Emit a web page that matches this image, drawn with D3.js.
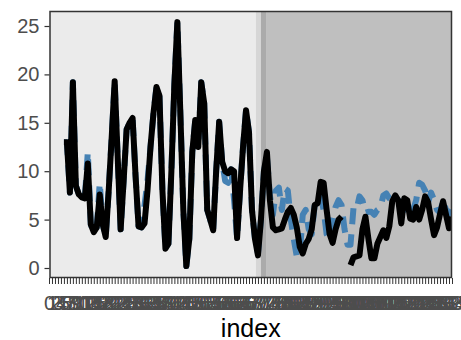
<!DOCTYPE html>
<html><head><meta charset="utf-8">
<script src="https://cdn.jsdelivr.net/npm/d3@7"></script>
<style>body{margin:0;background:#fff}svg{display:block}</style>
</head><body>
<svg id="c" width="461" height="340"></svg>
<script>
// ---- data ----
const indexValues = d3.range(0, 136);
const tickLabels = indexValues.map(String);
const actual = [null,null,null,null,null,
13.0,13.0,7.8,19.2,8.5,7.6,7.3,7.2,10.8,4.5,3.7,4.2,7.6,4.5,3.2,
8.0,13.5,19.3,11.5,4.0,9.0,14.3,15.0,15.5,9.5,4.3,4.2,4.6,8.0,12.5,
16.0,18.7,17.8,8.0,2.0,2.5,10.0,19.0,25.4,16.0,6.0,0.2,3.0,12.0,15.3,
12.5,19.2,17.0,6.0,5.0,3.9,10.0,15.1,11.0,10.0,9.8,10.2,10.0,3.1,8.0,
12.5,16.3,14.0,6.0,3.0,1.3,5.0,10.0,12.0,7.0,4.2,3.9,4.0,4.1,5.0,
5.8,6.2,5.5,4.2,2.2,1.5,2.5,3.0,4.0,6.5,6.7,8.9,8.8,6.0,3.5,
2.6,4.0,5.0,5.3,null,null,0.3,1.1,1.2,1.3,4.0,5.3,3.0,1.0,1.0,
2.5,3.2,3.9,3.1,4.3,6.9,7.5,7.0,4.6,7.2,7.0,5.1,5.0,6.3,5.0,
6.0,7.4,6.8,5.0,3.4,4.2,5.6,6.9,5.5,4.1,5.3];
const predicted = [null,null,null,null,null,
13.0,13.0,7.8,19.2,8.5,7.6,7.3,7.2,12.0,4.5,3.7,4.2,8.8,4.5,3.2,
8.0,13.5,19.3,11.5,4.0,9.0,14.3,15.0,15.5,9.5,4.3,4.2,6.5,9.0,12.5,
16.0,18.7,17.8,8.0,2.0,2.5,10.0,19.0,25.4,16.0,6.0,0.2,3.0,12.0,15.3,
12.5,19.2,17.0,6.0,5.0,3.9,10.0,15.1,11.0,9.0,8.8,10.2,7.0,3.1,8.0,
12.5,16.3,14.0,6.0,3.0,1.5,5.0,10.0,11.5,7.5,5.5,8.0,8.3,6.0,8.2,
8.0,5.0,3.0,1.2,1.5,5.5,6.0,4.0,3.5,6.5,7.0,7.5,6.0,3.5,3.0,
5.0,6.3,7.0,6.5,4.0,2.4,2.4,6.2,6.0,7.4,7.0,5.7,5.8,5.8,5.5,
6.0,6.2,7.5,7.7,7.2,7.0,6.8,7.0,6.7,6.0,6.2,6.7,6.0,7.0,8.8,
8.6,8.0,6.8,7.8,7.0,6.0,5.7,7.0,6.0,5.8,5.5];
// background phases, in index units
const phaseStarts = [0, 69.3, 71.0, 72.7];
const phaseEnds   = [69.3, 71.0, 72.7, 135];
const yTicks = [0, 5, 10, 15, 20, 25];

// ---- styles ----
const phaseFills = ["#ebebeb", "#d6d6d6", "#ababab", "#bfbfbf"];
const panel = {l: 50, r: 451.5, t: 11.5, b: 277.5};
const font = "'Liberation Sans', Arial, sans-serif";

const svg = d3.select("#c");
const x = d3.scaleLinear().domain([0, 135]).range([49, 452]);
const y = d3.scaleLinear().domain([0, 25]).range([268, 26]);

svg.append("defs").append("clipPath").attr("id", "clip")
  .append("rect").attr("x", panel.l).attr("y", panel.t)
  .attr("width", panel.r - panel.l).attr("height", panel.b - panel.t);

const g = svg.append("g").attr("clip-path", "url(#clip)");
g.selectAll("rect.phase").data(phaseStarts).enter().append("rect")
  .attr("class", "phase")
  .attr("x", (d) => Math.max(panel.l, x(d)))
  .attr("y", panel.t)
  .attr("width", (d, i) => Math.min(panel.r, x(phaseEnds[i]) + (i === 3 ? 5 : 0)) - Math.max(panel.l, x(d)))
  .attr("height", panel.b - panel.t)
  .attr("fill", (d, i) => phaseFills[i]);

const line = (arr) => d3.line()
  .defined((d) => d != null)
  .x((d, i) => x(indexValues[i]))
  .y((d) => y(d))(arr);

g.append("path").attr("d", line(predicted))
  .attr("fill", "none").attr("stroke", "#4682b4").attr("stroke-width", 6)
  .attr("stroke-dasharray", "16,10").attr("stroke-linejoin", "round");
g.append("path").attr("d", line(actual))
  .attr("fill", "none").attr("stroke", "#000").attr("stroke-width", 6)
  .attr("stroke-linejoin", "round").attr("stroke-linecap", "butt");

// panel border
svg.append("rect").attr("x", panel.l).attr("y", panel.t)
  .attr("width", panel.r - panel.l).attr("height", panel.b - panel.t)
  .attr("fill", "none").attr("stroke", "#333").attr("stroke-width", 1.5);

// y axis
const yAxis = svg.append("g").attr("transform", `translate(${panel.l - 0.5},0)`)
  .call(d3.axisLeft(y).tickValues(yTicks).tickSize(5).tickPadding(5));
yAxis.select(".domain").remove();
yAxis.selectAll(".tick line").attr("stroke", "#333").attr("stroke-width", 1.2);
yAxis.selectAll(".tick text").attr("fill", "#4d4d4d")
  .style("font-family", font).style("font-size", "20px");

// x axis
const xAxis = svg.append("g").attr("transform", `translate(0,${panel.b + 0.5})`)
  .call(d3.axisBottom(x).tickValues(indexValues).tickFormat((d, i) => tickLabels[i])
    .tickSize(6).tickPadding(12));
xAxis.select(".domain").remove();
xAxis.selectAll(".tick line").attr("stroke", "#333").attr("stroke-width", 1);
xAxis.selectAll(".tick text").attr("fill", "#4d4d4d")
  .style("font-family", font).style("font-size", "20px");

svg.append("text").attr("x", (panel.l + panel.r) / 2).attr("y", 337)
  .attr("text-anchor", "middle").attr("fill", "#000")
  .style("font-family", font).style("font-size", "25px")
  .text("index");
</script>
</body></html>
